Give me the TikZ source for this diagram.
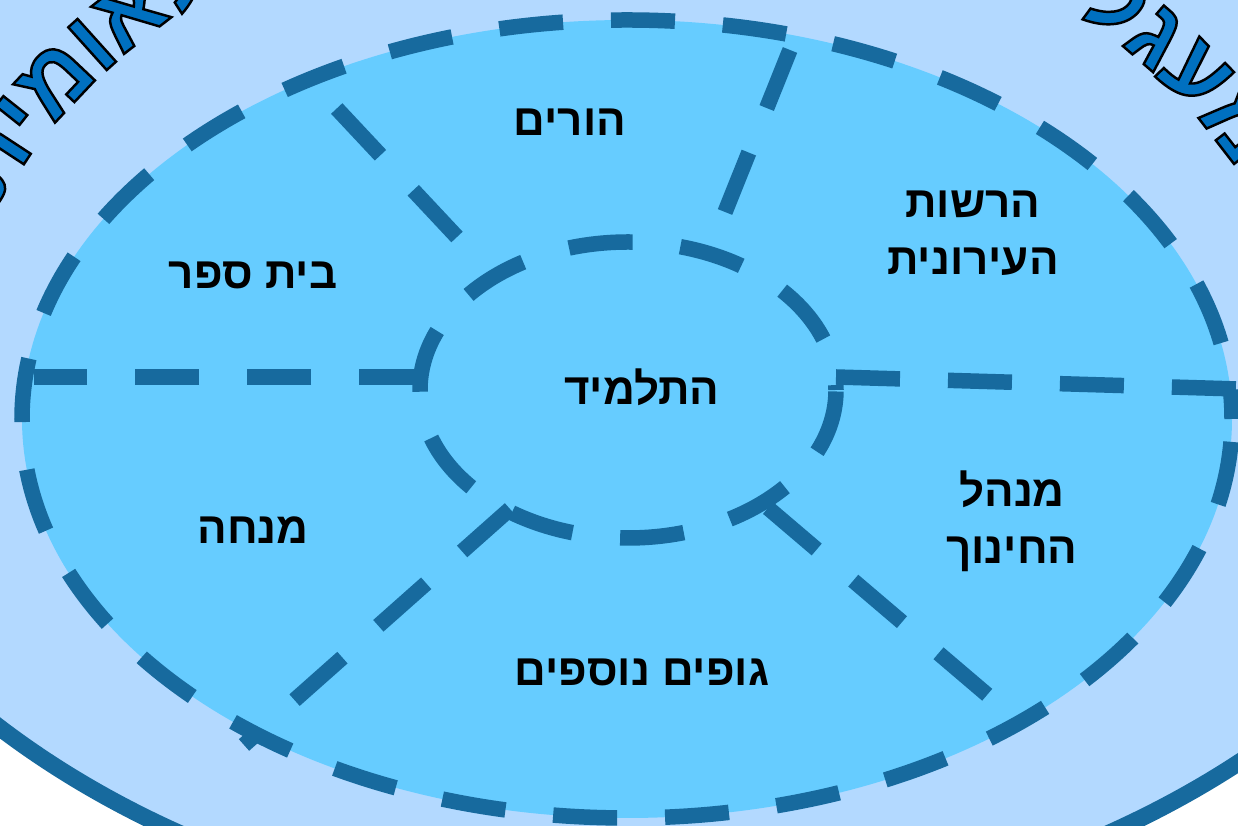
\documentclass[tikz,border=0pt]{standalone}
\usepackage{fontspec}
\usepackage{tikz}
\usetikzlibrary{decorations.text}
\TeXXeTstate=1
\newfontfamily\hebfont[Script=Hebrew]{Liberation Sans}
\definecolor{ringblue}{HTML}{B3D9FF}
\definecolor{skyblue}{HTML}{66CCFF}
\definecolor{deepblue}{HTML}{176A9E}
\definecolor{wordblue}{HTML}{0070C0}
\newcommand{\ringfont}{\hebfont\bfseries\fontsize{27}{27}\selectfont\special{pdf:literal direct 0 0 0 RG 2 Tr 0.7 w}}
\tikzset{rim/.style={draw=deepblue,line width=1.7mm,fill=ringblue},zone/.style={draw=deepblue,line width=1.55mm,dash pattern=on 6.4mm off 4.8mm},divider/.style={zone},lbl/.style={font=\hebfont\bfseries\fontsize{12.5}{16.2}\selectfont,align=center,inner sep=0pt},ringtext/.style={decorate,decoration={text along path,text align=center,text color=wordblue,text={#1}}}}

\begin{document}
\begin{tikzpicture}
\useasboundingbox (0,0) rectangle (12.38,8.26);
\clip (0,0) rectangle (12.38,8.26);
% outer ring and middle zone
\draw[rim] (6.44,5.64) ellipse [x radius=9.00cm, y radius=6.67cm];
\fill[skyblue] (6.27,4.07) ellipse [x radius=6.05cm, y radius=3.99cm];
\draw[zone,dash phase=3.5mm] (6.27,4.07) ellipse [x radius=6.05cm, y radius=3.99cm];
% dividers
\coordinate (w1) at (4.23,4.49); \coordinate (w2) at (0.34,4.49);
\coordinate (e1) at (8.36,4.49); \coordinate (e2) at (12.38,4.37);
\coordinate (nw1) at (4.57,5.89); \coordinate (nw2) at (3.10,7.46);
\coordinate (ne1) at (7.25,6.14); \coordinate (ne2) at (7.90,7.76);
\coordinate (sw1) at (5.10,3.17); \coordinate (sw2) at (2.44,0.81);
\coordinate (se1) at (7.68,3.18); \coordinate (se2) at (9.91,1.28);
\foreach \side in {w,e,nw,ne,sw,se} \draw[divider] (\side1) -- (\side2);
\draw[zone,dash phase=5.9mm] (6.28,4.36) ellipse [x radius=2.08cm, y radius=1.48cm];
% labels
\node[lbl] (parents) at (5.70,7.04) {\beginR הורים\endR};
\node[lbl] (school) at (2.53,5.51) {\beginR בית ספר\endR};
\node[lbl] (council) at (9.73,5.93) {\beginR הרשות\endR\\\beginR העירונית\endR};
\node[lbl] (pupil) at (6.42,4.39) {\beginR התלמיד\endR};
\node[lbl] (mentor) at (2.53,2.96) {\beginR מנחה\endR};
\node[lbl] (board) at (10.12,3.05) {\beginR מנהל\endR\\\beginR החינוך\endR};
\node[lbl] (bodies) at (6.42,1.54) {\beginR גופים נוספים\endR};
% ring title
\path[ringtext={|\ringfont|תימואלה}] (6.30,3.96) ++(165:6.92cm and 5.50cm) arc[start angle=165, end angle=113, x radius=6.92cm, y radius=5.50cm];
\path[ringtext={|\ringfont|לגעמ}] (6.30,3.96) ++(63:6.90cm and 5.48cm) arc[start angle=63, end angle=13, x radius=6.90cm, y radius=5.48cm];
\end{tikzpicture}
\end{document}
